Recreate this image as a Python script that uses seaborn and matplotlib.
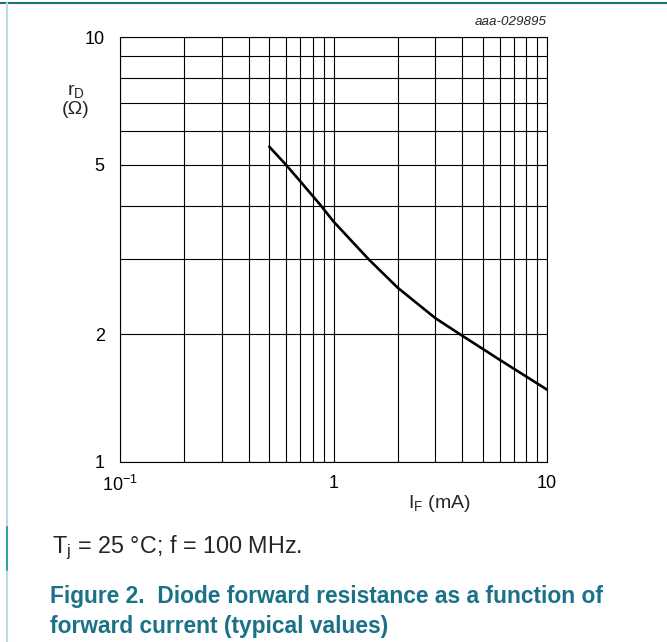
import matplotlib
matplotlib.use("Agg")
import matplotlib.pyplot as plt
import matplotlib.ticker as mticker
from matplotlib.lines import Line2D
import pandas as pd
import seaborn as sns

# 读图得到的曲线点 (I_F mA, r_D Ω)
current_ma = [0.5, 0.6, 0.7, 0.87, 1.0, 1.46, 2.0, 3.0, 3.9, 6.0, 10.0]
resistance_ohm = [5.52, 5.0, 4.57, 4.02, 3.68, 3.0, 2.57, 2.18, 2.0, 1.74, 1.48]

y_ticks = [1, 2, 5, 10]
y_tick_labels = ["1", "2", "5", "10"]
x_ticks = [0.1, 1, 10]
x_tick_labels = ["10$^{-1}$", "1", "10"]

TEAL = "#1b7288"

sns.set_theme(style="white")
plt.rcParams["font.family"] = ["Liberation Sans", "DejaVu Sans"]
plt.rcParams["mathtext.fontset"] = "custom"
plt.rcParams["mathtext.rm"] = "Liberation Sans"
plt.rcParams["mathtext.it"] = "Liberation Sans:italic"
plt.rcParams["axes.unicode_minus"] = False

fig = plt.figure(figsize=(6.67, 6.42), dpi=100)
ax = fig.add_axes([120 / 667, 1 - 462 / 642, 427 / 667, 425 / 642])

df = pd.DataFrame({"x": current_ma, "y": resistance_ohm})
sns.lineplot(data=df, x="x", y="y", ax=ax, color="black", linewidth=1.9)

ax.set_xscale("log")
ax.set_yscale("log")
ax.set_xlim(0.1, 10)
ax.set_ylim(1, 10)

ax.xaxis.set_major_locator(mticker.FixedLocator(x_ticks))
ax.xaxis.set_minor_locator(mticker.LogLocator(base=10, subs=range(2, 10)))
ax.yaxis.set_major_locator(mticker.FixedLocator(y_ticks))
ax.yaxis.set_minor_locator(mticker.LogLocator(base=10, subs=range(2, 10)))
ax.set_xticklabels(x_tick_labels)
ax.set_yticklabels(y_tick_labels)
ax.xaxis.set_minor_formatter(mticker.NullFormatter())
ax.yaxis.set_minor_formatter(mticker.NullFormatter())
ax.tick_params(which="both", length=0, labelsize=13, colors="black")
ax.tick_params(axis="x", pad=9)
ax.tick_params(axis="y", pad=11)

ax.grid(True, which="both", color="black", linewidth=0.8)
for sp in ax.spines.values():
    sp.set_color("black")
    sp.set_linewidth(0.8)
ax.set_xlabel("")
ax.set_ylabel("")

# 轴标签和注释
fig.text(439 / 667, 1 - 503 / 642, "I$_\\mathrm{F}$ (mA)", ha="center", va="center", fontsize=14)
fig.text(76 / 667, 1 - 91 / 642, "r$_\\mathrm{D}$", ha="center", va="center", fontsize=14)
fig.text(76 / 667, 1 - 110 / 642, "(Ω)", ha="center", va="center", fontsize=14)
fig.text(547 / 667, 1 - 22 / 642, "aaa-029895", ha="right", va="center", fontsize=9.6, style="italic")

fig.text(52 / 667, 1 - 548 / 642, "T$_\\mathrm{j}$ = 25 °C; f = 100 MHz.", ha="left", va="center", fontsize=16.8)
fig.text(50 / 667, 1 - 596 / 642, "Figure 2.  Diode forward resistance as a function of",
         ha="left", va="center", fontsize=16.4, fontweight="bold", color=TEAL)
fig.text(50 / 667, 1 - 627 / 642, "forward current (typical values)",
         ha="left", va="center", fontsize=16.4, fontweight="bold", color=TEAL)

# 页面边框
fig.add_artist(Line2D([0, 1], [1 - 3 / 642, 1 - 3 / 642], transform=fig.transFigure,
                      color="#1f6e7e", linewidth=1.5))
fig.add_artist(Line2D([7 / 667, 7 / 667], [0, 1 - 3 / 642], transform=fig.transFigure,
                      color="#b8dce2", linewidth=1.5))
fig.add_artist(Line2D([7 / 667, 7 / 667], [1 - 570 / 642, 1 - 527 / 642], transform=fig.transFigure,
                      color="#3a9aae", linewidth=1.5))

fig.savefig("out.png", dpi=100)
